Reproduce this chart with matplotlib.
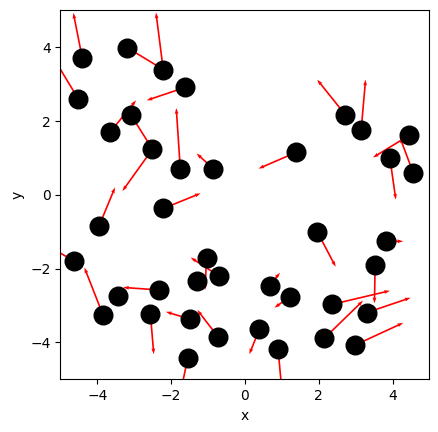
import numpy as np
import matplotlib
matplotlib.use('Agg')
import matplotlib.pyplot as plt

# positions of the particles
px = [-4.41, -3.19, -2.21, -4.51, -1.62, -3.08, -3.66, -2.51, -1.75, -0.86,
      2.72, 3.15, 1.39, 4.45, 3.93, 4.56, -3.95, -2.21, -4.62, -3.84,
      -3.43, -2.32, -2.56, -1.49, -0.72, -1.55, -1.04, -0.70, -1.29, 1.96,
      3.83, 3.53, 0.67, 1.23, 2.36, 3.31, 2.15, 2.99, 0.39, 0.90]
py = [3.72, 3.99, 3.37, 2.59, 2.91, 2.15, 1.69, 1.23, 0.69, 0.71,
      2.17, 1.75, 1.15, 1.61, 0.99, 0.60, -0.84, -0.37, -1.80, -3.27,
      -2.73, -2.58, -3.24, -3.37, -3.86, -4.43, -1.70, -2.20, -2.34, -1.00,
      -1.26, -1.91, -2.46, -2.76, -2.97, -3.19, -3.89, -4.07, -3.65, -4.19]

# velocity vectors
u = [-0.24, 0.92, -0.20, -0.72, -1.04, 0.51, 0.71, -0.81, -0.11, -0.45,
     -0.76, 0.12, -1.02, -0.98, 0.16, -0.36, 0.43, 1.01, -0.66, -0.51,
     -0.23, -0.98, 0.09, -0.65, -0.57, -0.18, -0.04, -0.77, 0.15, 0.50,
     0.46, -0.02, 0.28, -0.43, 1.57, 1.18, 1.05, 1.30, -0.27, 0.10]
v = [1.21, -0.56, 1.57, 1.19, -0.35, -0.81, 0.87, -1.13, 1.66, 0.41,
     0.95, 1.37, -0.44, -0.60, -1.12, 0.96, 1.04, 0.41, 0.38, 1.30,
     -0.20, 0.07, -1.08, 0.20, 0.74, -0.86, -0.88, 0.50, -0.10, -0.95,
     0.00, -1.03, 0.35, -0.30, 0.37, 0.40, 1.02, 0.60, -0.67, -1.10]

fig = plt.figure(figsize=(4.39, 4.32), dpi=100)
ax = fig.add_axes([60.4 / 439, (432 - 379.3) / 432, 369 / 439, 369 / 432])

# thin arrows with small heads, circles drawn on top
ax.quiver(px, py, u, v, color='red', angles='xy', scale_units='xy', scale=1,
          width=0.0045, headwidth=2.3, headlength=3.5, headaxislength=3.2, zorder=2)
ax.scatter(px, py, s=180, color='black', zorder=3)

ax.set_xlim(-5, 5)
ax.set_ylim(-5, 5)
ax.set_aspect('equal')
ax.set_xticks([-4, -2, 0, 2, 4])
ax.set_yticks([-4, -2, 0, 2, 4])
ax.set_xlabel('x')
ax.set_ylabel('y')

fig.savefig('out.png', dpi=100)
